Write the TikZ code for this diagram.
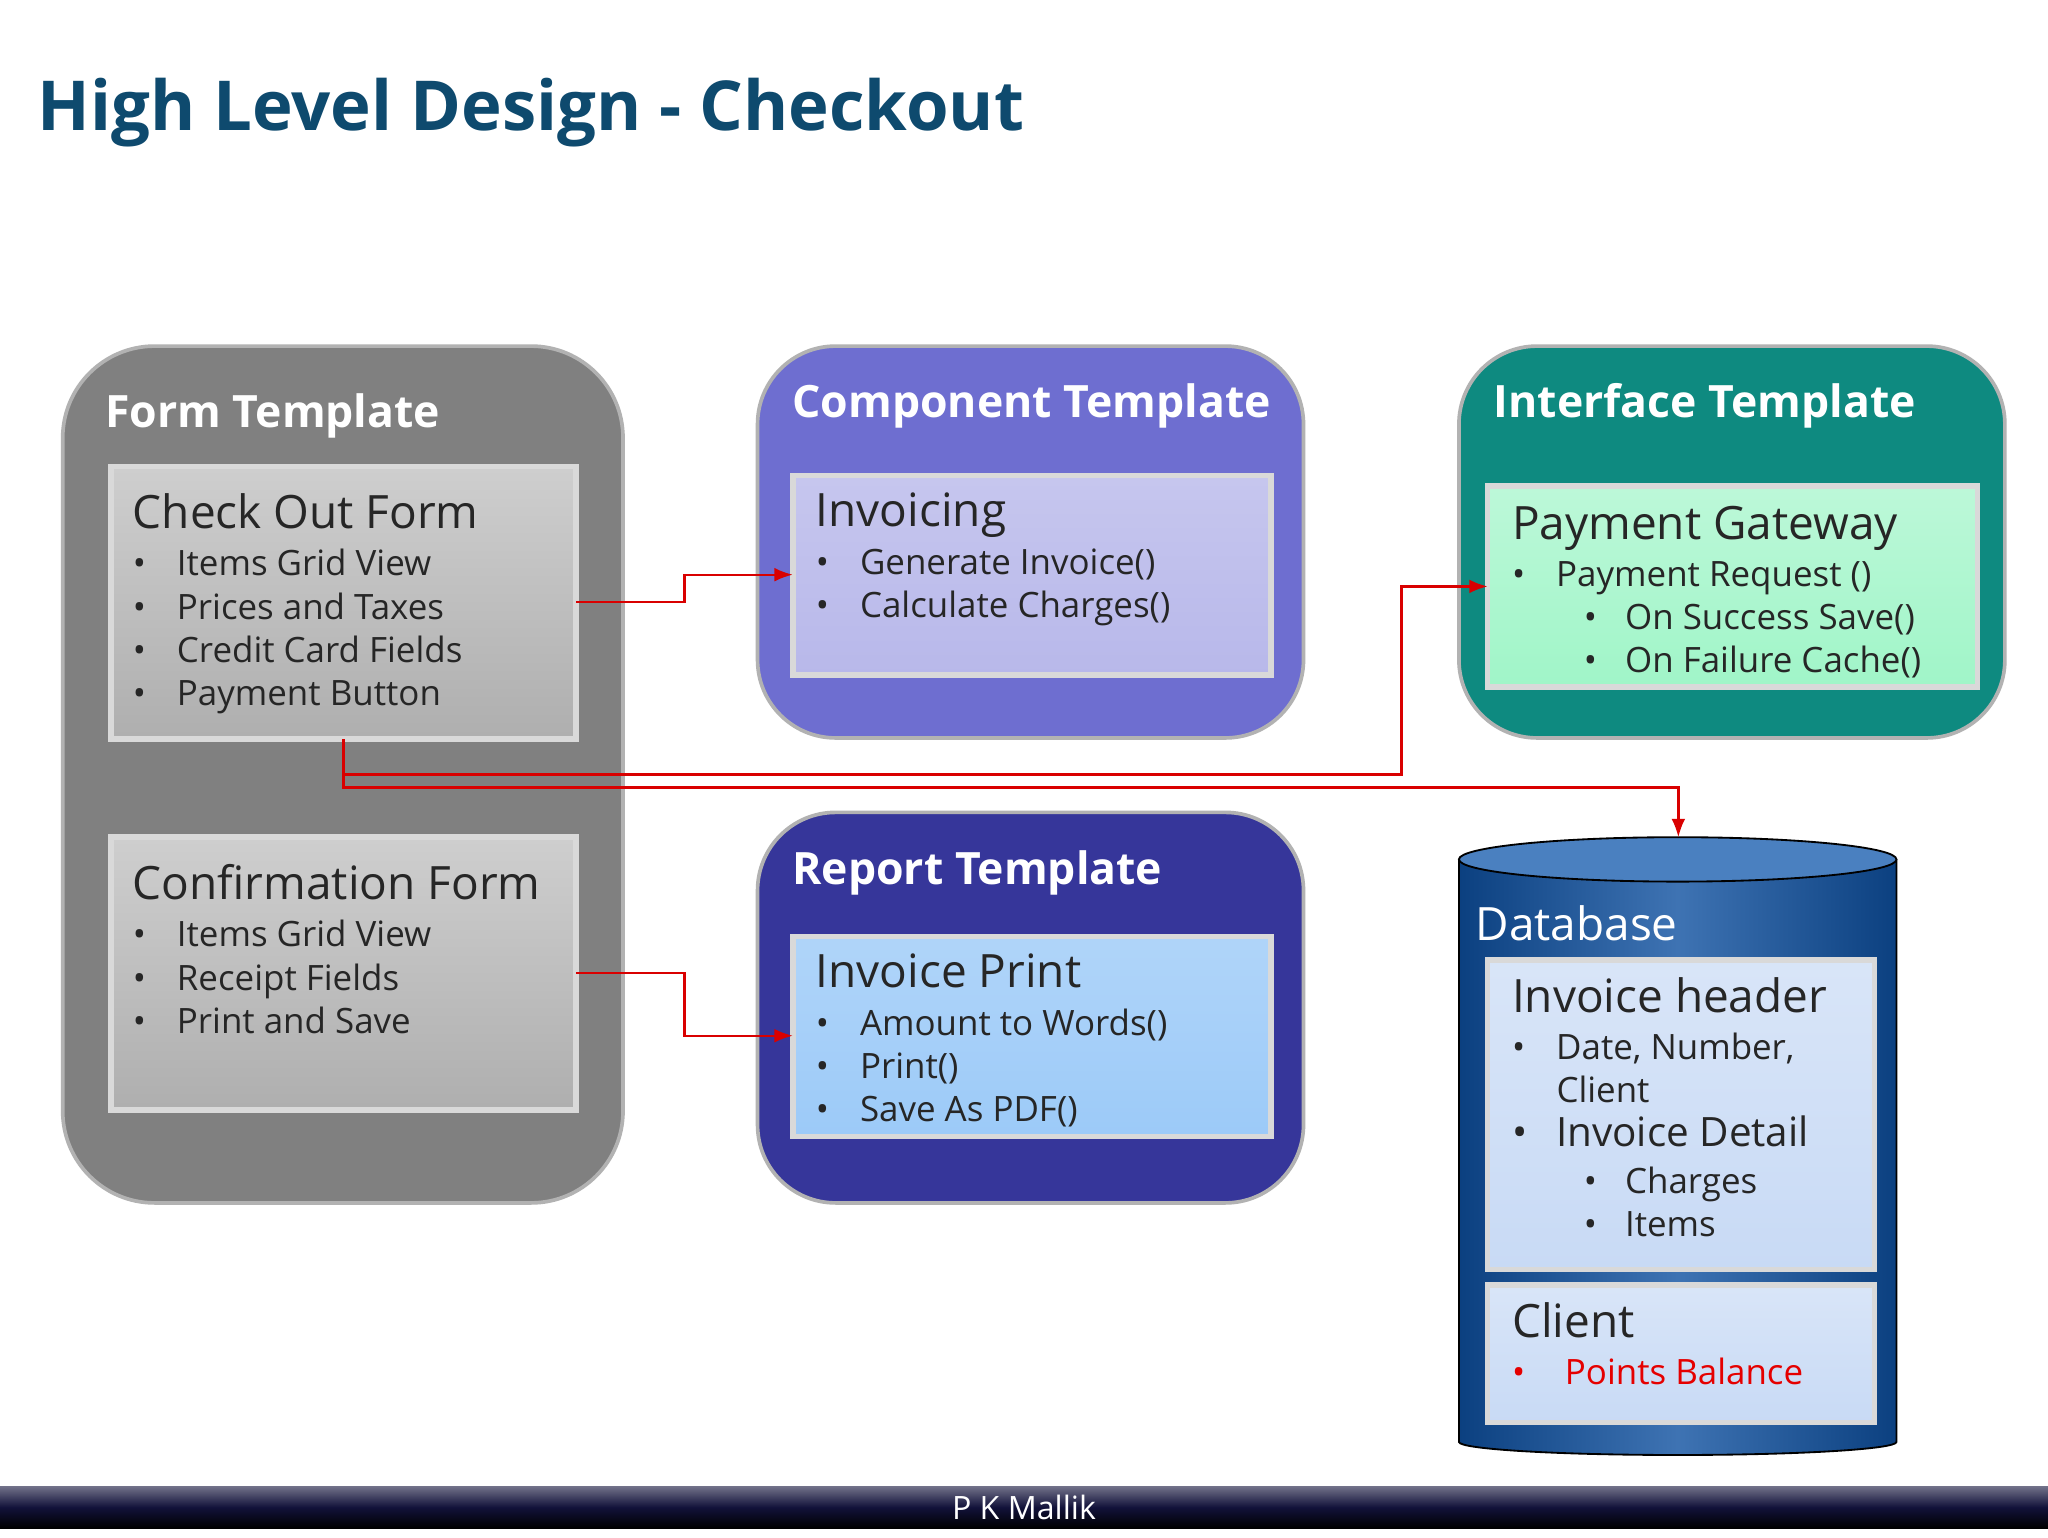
\documentclass[tikz,border=0pt]{standalone}
\usepackage{fontspec}
\setmainfont{Open Sans}
\usetikzlibrary{arrows.meta}
\definecolor{titleblue}{HTML}{0E4A6E}
\definecolor{formgray}{HTML}{808080}
\definecolor{innergray}{HTML}{C2C2C2}
\definecolor{comppurple}{HTML}{6E6ED0}
\definecolor{compinner}{HTML}{B8B8EA}
\definecolor{ifteal}{HTML}{0E8A80}
\definecolor{ifinner}{HTML}{A0F5C8}
\definecolor{repblue}{HTML}{36369A}
\definecolor{repinner}{HTML}{9CCAF8}
\definecolor{dbblue}{HTML}{0E50A0}
\definecolor{dbtop}{HTML}{4A80C0}
\definecolor{dbinner}{HTML}{C8DAF5}
\definecolor{footnavy}{HTML}{12123A}
\newcommand\bul{\makebox[9.6pt][l]{\textbullet}}
\newcommand\subbul{\hspace*{15.6pt}\makebox[9pt][l]{\textbullet}}
\tikzset{
  tmpl/.style={rounded corners=17pt,draw=white!70!black,line width=0.8pt},
  inner/.style={draw=white!85!black,line width=1.2pt},
  ttl/.style={anchor=base west,inner sep=0,font=\fontsize{9.7}{12}\selectfont\bfseries,text=white},
  hdr/.style={anchor=base west,inner sep=0,font=\fontsize{10}{12}\selectfont,text=black!85},
  itm/.style={anchor=base west,inner sep=0,font=\fontsize{7.6}{9}\selectfont,text=black!85},
  conn/.style={red!85!black,line width=0.5pt},
  arr/.style={conn,-{Latex[length=4pt,width=3pt]}}
}
\begin{document}
\begin{tikzpicture}[x=0.01cm,y=-0.01cm]
\useasboundingbox (0,0) rectangle (1568,1177);
\fill[white] (0,0) rectangle (1568,1177);
\node[anchor=base west,inner sep=0,text=titleblue,font=\fontsize{15}{18}\selectfont\bfseries] (title) at (28,100) {High Level Design - Checkout};

% Form template
\draw[tmpl,fill=formgray,rounded corners=20pt] (48,265) rectangle (477,921);
\node[ttl] (ft) at (80,327) {Form Template};
\draw[inner,top color=innergray!80!white,bottom color=innergray!90!black] (85,357) rectangle (441,566);
\node[hdr] (coh) at (101,405) {Check Out Form};
\node[itm] (co1) at (101,441) {\bul Items Grid View};
\node[itm] (co2) at (101,474) {\bul Prices and Taxes};
\node[itm] (co3) at (101,507) {\bul Credit Card Fields};
\node[itm] (co4) at (101,540) {\bul Payment Button};
\draw[inner,top color=innergray!80!white,bottom color=innergray!90!black] (85,641) rectangle (441,850);
\node[hdr] (cfh) at (101,689) {Confirmation Form};
\node[itm] (cf1) at (101,725) {\bul Items Grid View};
\node[itm] (cf2) at (101,758) {\bul Receipt Fields};
\node[itm] (cf3) at (101,791) {\bul Print and Save};

% Component template
\draw[tmpl,fill=comppurple] (580,265) rectangle (998,565);
\node[ttl] (ct) at (606,320) {Component Template};
\draw[inner,top color=compinner!80!white,bottom color=compinner] (607,364) rectangle (973,517);
\node[hdr] (invh) at (624,403) {Invoicing};
\node[itm] (inv1) at (624,440) {\bul Generate Invoice()};
\node[itm] (inv2) at (624,473) {\bul Calculate Charges()};

% Interface template
\draw[tmpl,fill=ifteal] (1117,265) rectangle (1535,565);
\node[ttl] (it) at (1143,320) {Interface Template};
\draw[inner,top color=ifinner!70!white,bottom color=ifinner] (1139,372) rectangle (1514,526);
\node[hdr] (pgh) at (1157,413) {Payment Gateway};
\node[itm] (pg1) at (1157,449) {\bul Payment Request ()};
\node[itm] (pg2) at (1157,482) {\subbul On Success Save()};
\node[itm] (pg3) at (1157,515) {\subbul On Failure Cache()};

% Report template
\draw[tmpl,fill=repblue] (580,622) rectangle (998,921);
\node[ttl] (rt) at (606,677) {Report Template};
\draw[inner,top color=repinner!80!white,bottom color=repinner] (607,717) rectangle (973,870);
\node[hdr] (iph) at (624,756) {Invoice Print};
\node[itm] (ip1) at (624,793) {\bul Amount to Words()};
\node[itm] (ip2) at (624,826) {\bul Print()};
\node[itm] (ip3) at (624,859) {\bul Save As PDF()};

% Database
\fill[left color=dbblue!80!black,right color=dbblue!80!black,middle color=dbblue!80!white] (1117,658) -- (1117,1104) arc[start angle=180,end angle=0,x radius=167.5,y radius=10] -- (1452,658) arc[start angle=0,end angle=-180,x radius=167.5,y radius=17] -- cycle;
\draw[black] (1117,658) -- (1117,1104) arc[start angle=180,end angle=0,x radius=167.5,y radius=10] -- (1452,658);
\draw[fill=dbtop,draw=black] (1284.5,658) ellipse[x radius=167.5,y radius=17];
\node[anchor=base west,inner sep=0,text=white,font=\fontsize{10}{12}\selectfont] (dbt) at (1129,720) {Database};
\draw[inner,top color=dbinner!70!white,bottom color=dbinner] (1139,735) rectangle (1435,972);
\node[hdr] (ihh) at (1157,775) {Invoice header};
\node[itm] (ih1) at (1157,811) {\bul Date, Number,};
\node[itm] (ih1b) at (1191,844) {Client};
\node[itm,font=\fontsize{8.8}{10}\selectfont] (ih2) at (1157,878) {\makebox[9.6pt][l]{\textbullet}Invoice Detail};
\node[itm] (ih3) at (1157,914) {\subbul Charges};
\node[itm] (ih4) at (1157,947) {\subbul Items};
\draw[inner,top color=dbinner!70!white,bottom color=dbinner] (1139,984) rectangle (1435,1089);
\node[hdr] (clh) at (1157,1024) {Client};
\node[itm,text=red!90!black] (cl1) at (1157,1060) {\makebox[11.5pt][l]{\textbullet}Points Balance};

% Connectors
\coordinate (a1) at (441,461); \coordinate (a2) at (607,440);
\draw[arr] (a1) -- (524,461) -- (524,440) -- (a2);
\coordinate (b1) at (441,745); \coordinate (b2) at (607,793);
\draw[arr] (b1) -- (524,745) -- (524,793) -- (b2);
\coordinate (c1) at (263,566); \coordinate (c2) at (1139,449);
\draw[arr] (c1) -- (263,593) -- (1073,593) -- (1073,449) -- (c2);
\coordinate (d2) at (1285,641);
\draw[arr] (263,593) -- (263,603) -- (1285,603) -- (d2);

% Footer
\fill[top color=footnavy!60!white,bottom color=black,middle color=footnavy] (0,1138) rectangle (1568,1170);
\node[anchor=base,inner sep=0,text=white,font=\fontsize{7}{8}\selectfont] (foot) at (784,1163) {P K Mallik};
\end{tikzpicture}
\end{document}
